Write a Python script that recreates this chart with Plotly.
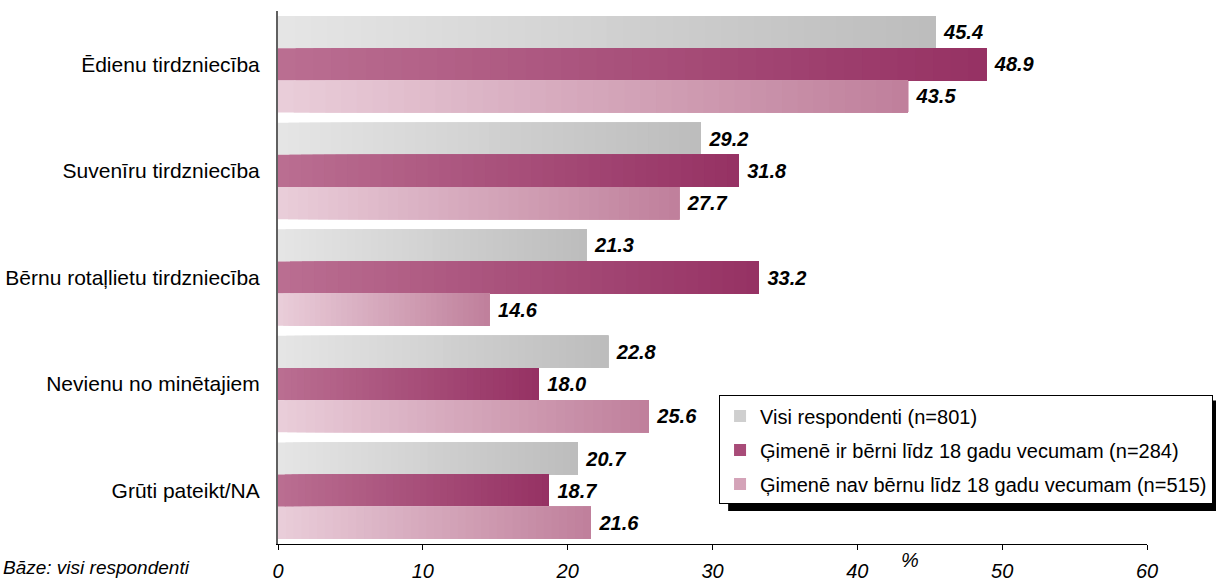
import plotly.graph_objects as go

categories = ["Ēdienu tirdzniecība", "Suvenīru tirdzniecība", "Bērnu rotaļlietu tirdzniecība",
              "Nevienu no minētajiem", "Grūti pateikt/NA"]
series_names = ["Visi respondenti (n=801)",
                "Ģimenē ir bērni līdz 18 gadu vecumam (n=284)",
                "Ģimenē nav bērnu līdz 18 gadu vecumam (n=515)"]
visi = [45.4, 29.2, 21.3, 22.8, 20.7]
ar_berniem = [48.9, 31.8, 33.2, 18.0, 18.7]
bez_berniem = [43.5, 27.7, 14.6, 25.6, 21.6]
x_ticks = [0, 10, 20, 30, 40, 50, 60]

series_values = [visi, ar_berniem, bez_berniem]
# gradient start/end colours (left -> right)
grad = [((229, 229, 229), (189, 189, 189)),
        ((186, 110, 145), (150, 50, 100)),
        ((233, 205, 217), (192, 128, 156))]
legend_cols = ["#cfcfcf", "#a84b78", "#d4a3b8"]

FONT = "Liberation Sans, Arial, sans-serif"
N = 40


def mix(c0, c1, t):
    return "rgb(%d,%d,%d)" % tuple(round(a + (b - a) * t) for a, b in zip(c0, c1))


fig = go.Figure()
for s, vals in enumerate(series_values):
    c0, c1 = grad[s]
    for k in range(N):
        col = mix(c0, c1, k / (N - 1))
        fig.add_trace(go.Bar(
            y=categories, x=[v * (N - k) / N for v in vals], base=[v * k / N for v in vals],
            orientation="h", offsetgroup=str(s), showlegend=False, hoverinfo="skip",
            marker=dict(color=col, line=dict(width=0)),
        ))
    # labels
    fig.add_trace(go.Bar(
        y=categories, x=vals, orientation="h", offsetgroup=str(s), showlegend=False,
        marker=dict(color="rgba(0,0,0,0)", line=dict(width=0)),
        text=[" %.1f" % v for v in vals], textposition="outside", cliponaxis=False,
        textfont=dict(family=FONT, size=20, color="black", weight="bold", style="italic"),
        hovertemplate="%{y}: %{x}<extra></extra>",
    ))
    # legend entry
    fig.add_trace(go.Bar(
        y=[categories[0]], x=[None], orientation="h", offsetgroup=str(s),
        name=series_names[s], legendgroup=str(s),
        marker=dict(color=legend_cols[s], line=dict(width=0)),
    ))

# legend shadow
fig.add_shape(type="rect", xref="paper", yref="paper",
              x0=0.518, x1=1.085, y0=0.062, y1=0.269,
              fillcolor="black", line=dict(width=0), layer="above")

fig.add_annotation(text="%", xref="paper", yref="paper", x=0.727, y=-0.03,
                   xanchor="center", yanchor="middle", showarrow=False,
                   font=dict(family=FONT, size=20, color="black", style="italic"))
fig.add_annotation(text="Bāze: visi respondenti", xref="paper", yref="paper", x=-0.319, y=-0.045,
                   xanchor="left", yanchor="middle", showarrow=False,
                   font=dict(family=FONT, size=19, color="black", style="italic"))

fig.update_layout(
    width=1216, height=583,
    margin=dict(l=278, r=69, t=11, b=39, autoexpand=False),
    paper_bgcolor="white", plot_bgcolor="white",
    barmode="group", bargap=0.095, bargroupgap=0,
    font=dict(family=FONT, size=20, color="black"),
    showlegend=True,
    legend=dict(x=1.076, y=0.2787, xanchor="right", yanchor="top",
                bgcolor="white", bordercolor="black", borderwidth=1,
                font=dict(family=FONT, size=20, color="black"),
                traceorder="grouped", tracegroupgap=5, itemwidth=30),
    xaxis=dict(range=[0, 60], tickvals=x_ticks, ticktext=[str(t) for t in x_ticks],
               showgrid=False, zeroline=False, showline=True, linecolor="black", linewidth=1,
               ticks="outside", ticklen=5, tickcolor="black", ticklabelstandoff=4,
               automargin=False,
               tickfont=dict(family=FONT, size=20, color="black", style="italic")),
    yaxis=dict(type="category", categoryorder="array", categoryarray=categories,
               autorange="reversed", showgrid=False, zeroline=False,
               showline=True, linecolor="#606060", linewidth=2, ticks="",
               ticklabelstandoff=12, automargin=False,
               tickfont=dict(family=FONT, size=21, color="black")),
)

fig.write_html("out.html", config={"displayModeBar": False},
               post_script="document.body.style.margin='0px';document.body.style.overflow='hidden';")
